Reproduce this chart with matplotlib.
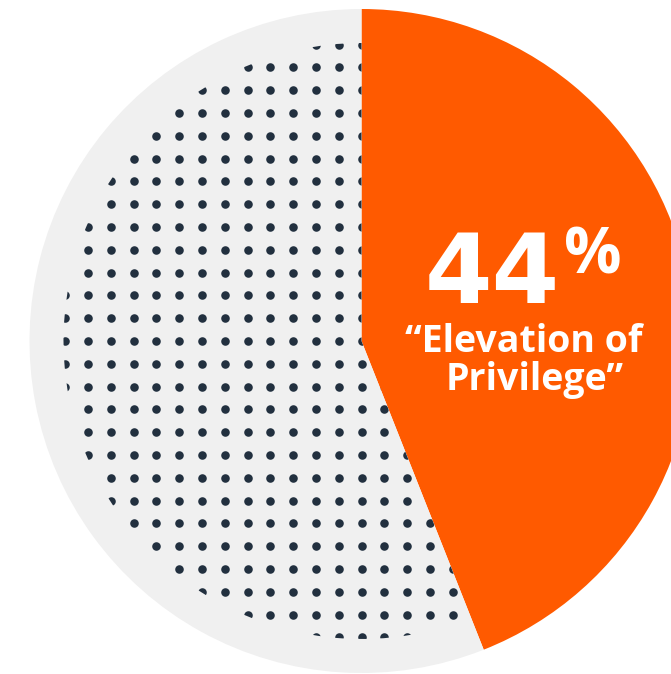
import numpy as np
import matplotlib
matplotlib.use("Agg")
import matplotlib.pyplot as plt
from matplotlib.patches import Wedge

# Data
categories = ["Elevation of Privilege", "Other"]
values = [44, 56]
colors = ["#FF5A00", "#F0F0F0"]
big_label = "44"
pct_label = "%"
label_lines = ["\u201cElevation of", "Privilege\u201d"]

W, H = 671, 674
fig = plt.figure(figsize=(W / 100, H / 100), dpi=100)
ax = fig.add_axes([0, 0, 1, 1])

def Y(y_img):
    return H - y_img

cx, cy = 361.5, Y(341)
R = 332
wedges, _ = ax.pie(values, colors=colors, startangle=90, counterclock=False,
                   center=(cx, cy), radius=R, frame=True,
                   wedgeprops=dict(linewidth=0))
ax.set_xlim(0, W)
ax.set_ylim(0, H)
ax.set_aspect("equal")
ax.axis("off")

# dot texture clipped to the grey wedge, inside a smaller circle
gw = wedges[1]
clip = Wedge((cx, cy), 298, gw.theta1, gw.theta2, transform=ax.transData,
             facecolor="none", edgecolor="none")
ax.add_patch(clip)
step = 22.8
xs = cx + step * np.arange(-14, 15)
ys = cy + step * np.arange(-14, 15)
gx, gy = np.meshgrid(xs, ys)
sc = ax.scatter(gx.ravel(), gy.ravel(), s=38, color="#22303F", linewidths=0, zorder=3)
sc.set_clip_path(clip)

font = ["Open Sans", "DejaVu Sans"]
ax.text(425, Y(303), big_label, fontsize=70, fontweight="bold", family="DejaVu Sans",
        color="white", ha="left", va="baseline", zorder=5)
ax.text(564, Y(273), pct_label, fontsize=46, fontweight="bold", family=font,
        color="white", ha="left", va="baseline", zorder=5)
ax.text(523.5, Y(352), label_lines[0], fontsize=27, fontweight="bold", family=font,
        color="white", ha="center", va="baseline", zorder=5)
ax.text(534.5, Y(390), label_lines[1], fontsize=27, fontweight="bold", family=font,
        color="white", ha="center", va="baseline", zorder=5)

fig.savefig("out.png", dpi=100)
